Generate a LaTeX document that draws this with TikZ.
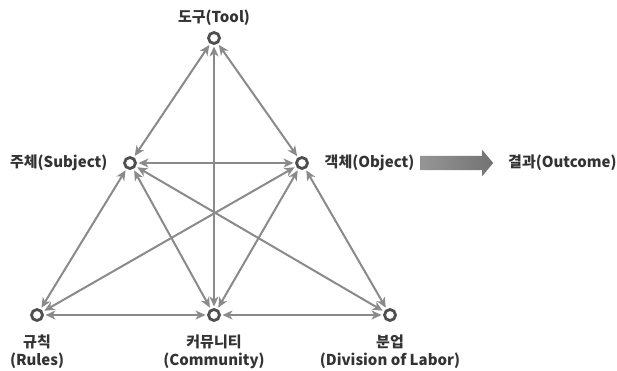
\documentclass[tikz,border=0pt]{standalone}
\usepackage{fontspec}
\setmainfont{Noto Sans CJK KR}
\usetikzlibrary{arrows.meta, positioning, shapes.arrows}
\definecolor{linegray}{HTML}{8A8A8A}
\definecolor{ringgray}{HTML}{4F4F4F}
\definecolor{txtgray}{HTML}{333333}

\begin{document}
\begin{tikzpicture}[x=1pt, y=-1pt,
        node distance=4pt,
        dot/.style={circle, draw=ringgray, line width=2.8pt, fill=white, minimum size=11pt, inner sep=0pt, outer sep=3pt},
        lbl/.style={font=\fontsize{15}{18}\selectfont\bfseries, text=txtgray, inner sep=1pt, align=center},
        arr/.style={{Stealth[length=10pt, width=9pt, inset=3pt]}-{Stealth[length=10pt, width=9pt, inset=3pt]}, draw=linegray, line width=2pt}]
        \useasboundingbox (0,0) rectangle (617,370);
        % points of the triangle
        \node[dot] (tool) at (214,38) {};
        \node[dot] (subj) at (130,163) {};
        \node[dot] (obj) at (302,163) {};
        \node[dot] (rules) at (37,315) {};
        \node[dot] (comm) at (214,315) {};
        \node[dot] (div) at (390,315) {};
        % labels
        \node[lbl, above=3pt of tool] (toolL) {도구(Tool)};
        \node[lbl, left=13pt of subj] (subjL) {주체(Subject)};
        \node[lbl, right=13pt of obj] (objL) {객체(Object)};
        \node[lbl, below=10pt of rules] (rulesL) {규칙\\(Rules)};
        \node[lbl, below=10pt of comm] (commL) {커뮤니티\\(Community)};
        \node[lbl, below=10pt of div] (divL) {분업\\(Division of Labor)};
        \node[lbl, anchor=west] (outL) at (507,163) {결과(Outcome)};
        % relations
        \draw[arr] (tool) -- (subj);
        \draw[arr] (tool) -- (obj);
        \draw[arr] (tool) -- (comm);
        \draw[arr] (subj) -- (obj);
        \draw[arr] (subj) -- (rules);
        \draw[arr] (subj) -- (comm);
        \draw[arr] (subj) -- (div);
        \draw[arr] (obj) -- (rules);
        \draw[arr] (obj) -- (comm);
        \draw[arr] (obj) -- (div);
        \draw[arr] (rules) -- (comm);
        \draw[arr] (comm) -- (div);
        % outcome arrow
        \node[single arrow, minimum height=73pt, inner xsep=0pt, inner ysep=7pt, single arrow head extend=6pt, single arrow tip angle=100, left color=linegray!90, right color=ringgray!80, draw=none, anchor=west] (flow) at (420,163) {};
    \end{tikzpicture}
\end{document}
